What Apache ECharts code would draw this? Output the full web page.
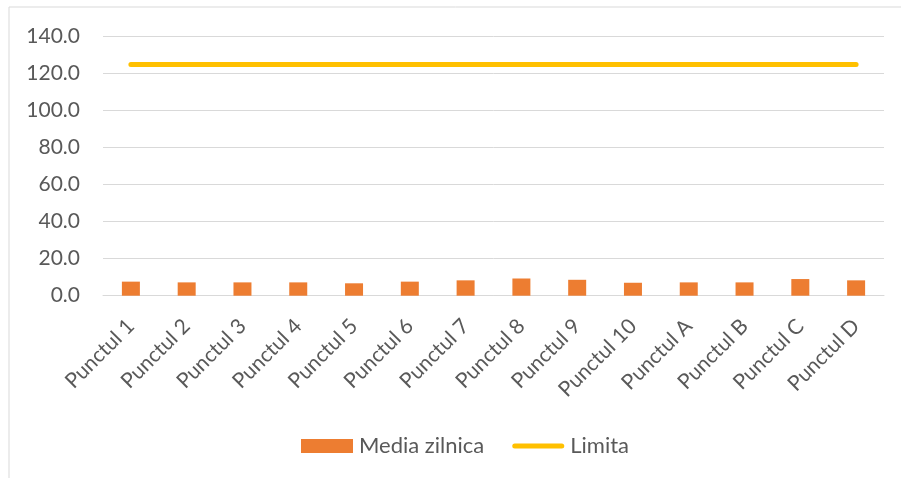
<!DOCTYPE html>
<html>
<head>
<meta charset="utf-8">
<script src="https://cdn.jsdelivr.net/npm/echarts@6/dist/echarts.min.js"></script>
<style>
  html, body { margin: 0; padding: 0; background: #fff; }
  #chart { width: 901px; height: 478px; }
</style>
</head>
<body>
<div id="chart"></div>
<script>
// Monitoring points along the x axis
const categories = ['Punctul 1', 'Punctul 2', 'Punctul 3', 'Punctul 4', 'Punctul 5', 'Punctul 6', 'Punctul 7',
  'Punctul 8', 'Punctul 9', 'Punctul 10', 'Punctul A', 'Punctul B', 'Punctul C', 'Punctul D'];
// Daily average per point
const mediaZilnica = [7.6, 7.2, 7.2, 7.2, 6.7, 7.6, 8.3, 9.3, 8.6, 7.0, 7.2, 7.2, 9.0, 8.3];
// Limit value, same for every point
const limita = [125, 125, 125, 125, 125, 125, 125, 125, 125, 125, 125, 125, 125, 125];
// Value axis range
const yMin = 0, yMax = 140, yStep = 20;

const FONT = 'Lato';
const TEXT = '#595959';
// Thick rounded bar used as the legend swatch of the limit line
const LINE_ICON = 'path://M2.5,0 H49.5 A2.5,2.5 0 0 1 49.5,5 H2.5 A2.5,2.5 0 0 1 2.5,0 Z';

const chart = echarts.init(document.getElementById('chart'), null, { renderer: 'canvas' });
chart.setOption({
  animation: false,
  backgroundColor: '#fff',
  textStyle: { fontFamily: FONT, color: TEXT },
  graphic: [{
    type: 'rect',
    shape: { x: 9, y: 7, width: 1000, height: 1000 },
    style: { fill: 'none', stroke: '#d9d9d9', lineWidth: 1 },
    silent: true
  }],
  grid: { left: 103, right: 17, top: 36.7, bottom: 182.3, containLabel: false },
  legend: {
    left: 301,
    top: 435,
    padding: 0,
    itemWidth: 52,
    itemHeight: 14,
    itemGap: 28,
    textStyle: { fontFamily: FONT, fontSize: 22, color: TEXT, padding: [0, 0, 0, 1] },
    data: [
      { name: 'Media zilnica', icon: 'rect' },
      { name: 'Limita', icon: LINE_ICON }
    ]
  },
  xAxis: {
    type: 'category',
    data: categories,
    axisLine: { show: true, lineStyle: { color: '#d9d9d9', width: 1 } },
    axisTick: { show: false },
    axisLabel: {
      interval: 0,
      rotate: 45,
      margin: 27,
      fontFamily: FONT,
      fontSize: 21,
      color: TEXT
    }
  },
  yAxis: {
    type: 'value',
    min: yMin,
    max: yMax,
    interval: yStep,
    axisLine: { show: false },
    axisTick: { show: false },
    splitLine: { lineStyle: { color: '#d9d9d9', width: 1 } },
    axisLabel: {
      margin: 23,
      fontFamily: FONT,
      fontSize: 21,
      color: TEXT,
      formatter: v => v.toFixed(1)
    }
  },
  series: [
    {
      name: 'Media zilnica',
      type: 'bar',
      data: mediaZilnica,
      barWidth: 18,
      itemStyle: { color: '#ED7D31' }
    },
    {
      name: 'Limita',
      type: 'line',
      data: limita,
      symbol: 'none',
      showSymbol: false,
      itemStyle: { color: '#FFC000' },
      lineStyle: { color: '#FFC000', width: 5, cap: 'round' }
    }
  ]
});
</script>
</body>
</html>
